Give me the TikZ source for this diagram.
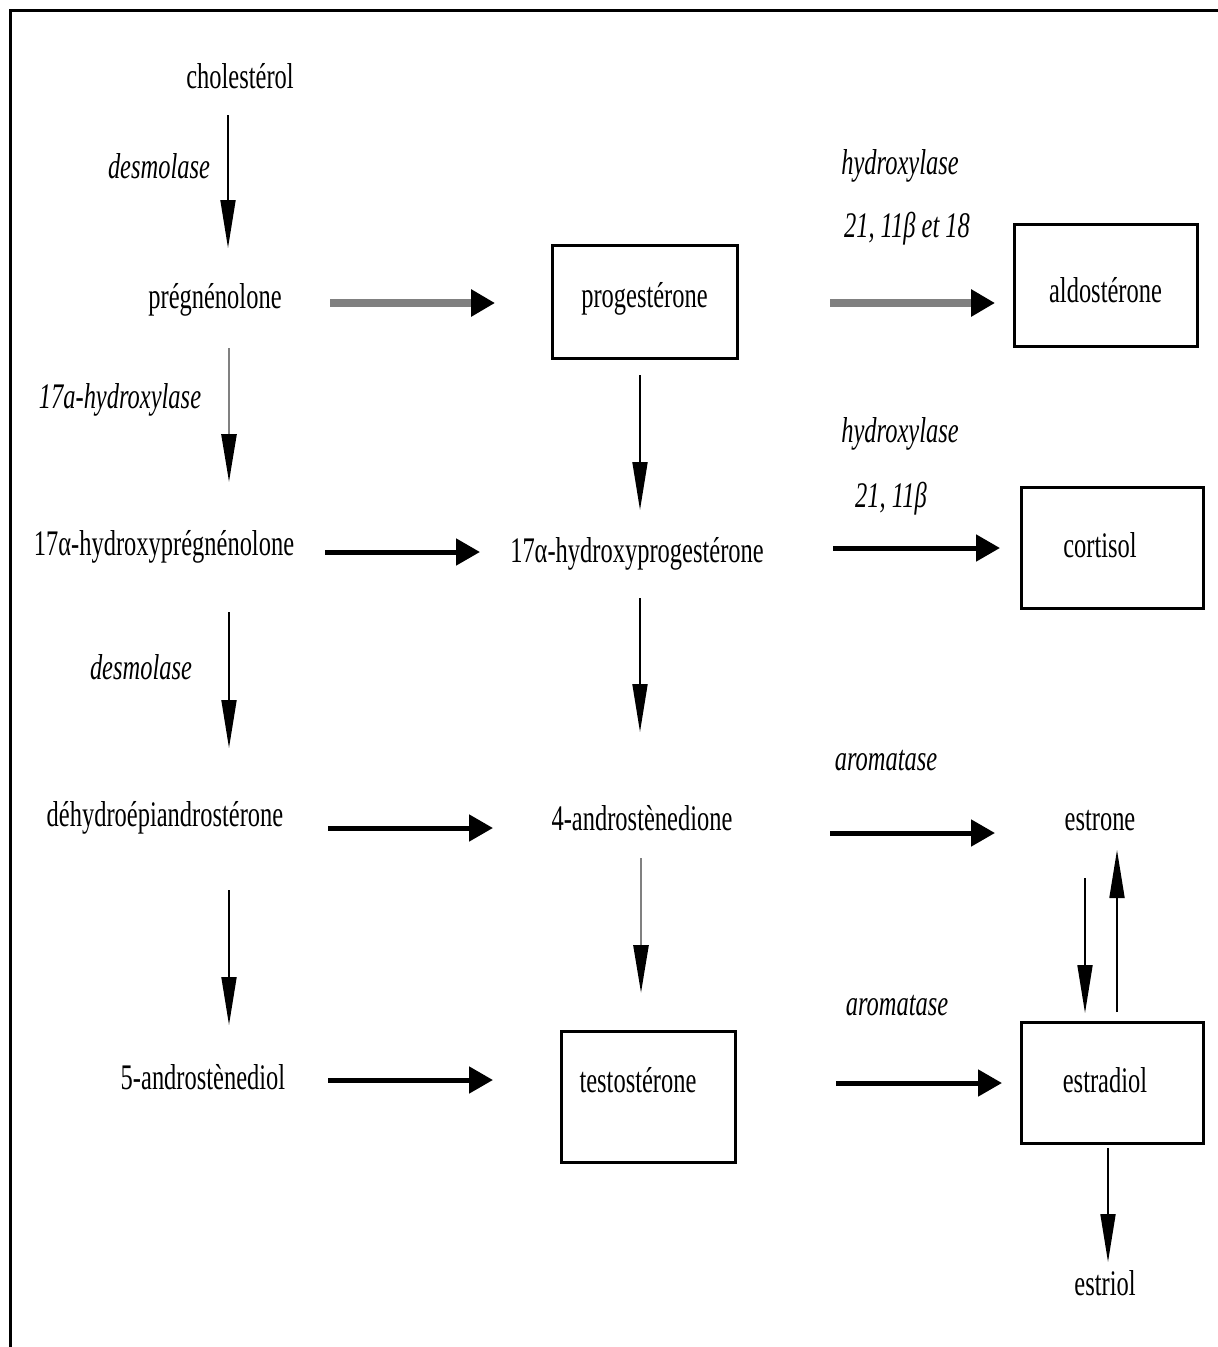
\documentclass[tikz,border=0pt]{standalone}
\usepackage{fontspec}
\setmainfont{Liberation Serif}[FakeStretch=0.68]
\usetikzlibrary{arrows.meta,calc}
\newcommand\mainsz{\fontsize{36pt}{40pt}\selectfont}
\begin{document}
\begin{tikzpicture}[x=1pt,y=-1pt,
  txt/.style={inner sep=0pt, text height=25pt, text depth=1pt, font=\mainsz},
  lab/.style={inner sep=0pt, text height=25pt, text depth=1pt, font=\mainsz\itshape},
  box/.style={draw, line width=3pt, inner sep=0pt, font=\mainsz},
  varr/.style={line width=1.8pt, -{Triangle[length=48pt,width=15pt]}},
  gvarr/.style={line width=2.6pt, draw=gray, -{Triangle[length=48pt,width=15pt,color=black]}},
  harr/.style={line width=5pt, -{Triangle[length=24pt,width=26pt]}},
  garr/.style={line width=8pt, draw=gray, -{Triangle[length=24pt,width=26pt,color=black]}},
  frame/.style={line width=3pt}]
\useasboundingbox (0,0) rectangle (1218,1347);
% frame
\draw[frame] (10,1347) -- (10,10) -- (1218,10);
% left column
\node[txt] (chol)  at (240,76)  {cholestérol};
\node[txt] (preg)  at (215,296) {prégnénolone};
\node[txt] (hpreg) at (164,543) {17α-hydroxyprégnénolone};
\node[txt] (dhea)  at (165,814) {déhydroépiandrostérone};
\node[txt] (adiol) at (203,1077) {5-androstènediol};
% middle column
\node[box, minimum width=185pt, minimum height=113pt, text height=25pt, text depth=14pt] (prog) at (644.5,301.5) {progestérone};
\node[txt] (hprog) at (637,550) {17α-hydroxyprogestérone};
\node[txt] (andr)  at (642,818) {4-androstènedione};
\node[box, minimum width=174pt, minimum height=131pt, text height=25pt, text depth=34pt] (testo) at (648,1096.5) {testostérone\kern20pt};
% right column
\node[box, minimum width=183pt, minimum height=122pt, text height=35pt, text depth=1pt] (ald) at (1105.5,285) {aldostérone};
\node[box, minimum width=182pt, minimum height=121pt, text height=25pt, text depth=6pt] (cort) at (1112,547.5) {cortisol\kern24pt};
\node[txt] (estrone) at (1100,818) {estrone};
\node[box, minimum width=182pt, minimum height=121pt, text height=25pt, text depth=6pt] (estradiol) at (1112,1082.5) {estradiol\kern14pt};
\node[txt] (estriol) at (1105,1283) {estriol};
% enzyme labels
\node[lab] (l1) at (159,166) {desmolase};
\node[lab] (l2) at (120,396) {17a-hydroxylase};
\node[lab] (l3) at (141,667) {desmolase};
\node[lab] (l4) at (900,162) {hydroxylase};
\node[lab] (l5) at (907,225) {21, 11β et 18};
\node[lab] (l6) at (900,430) {hydroxylase};
\node[lab] (l7) at (891,495) {21, 11β};
\node[lab] (l8) at (886,758) {aromatase};
\node[lab] (l9) at (897,1003) {aromatase};
% vertical connectors, left
\draw[varr]  ($(chol)+(-12,39)$)  -- ($(preg)+(13,-48)$);
\draw[gvarr] ($(preg)+(14,52)$)   -- ($(hpreg)+(65,-61)$);
\draw[varr]  ($(hpreg)+(65,69)$)  -- ($(dhea)+(64,-66)$);
\draw[varr]  ($(dhea)+(64,76)$)   -- ($(adiol)+(26,-52)$);
% vertical connectors, middle
\draw[varr]  ($(prog)+(-4.5,73.5)$) -- ($(hprog)+(3,-40)$);
\draw[varr]  ($(hprog)+(3,48)$)     -- ($(andr)+(-2,-86)$);
\draw[gvarr] ($(andr)+(-1,40)$)     -- ($(testo)+(-7,-103.5)$);
% horizontal connectors, left to middle
\draw[garr] ($(preg)+(115,7)$)   -- ($(prog)+(-149.5,1.5)$);
\draw[harr] ($(hpreg)+(161,9)$)  -- ($(hprog)+(-157,2)$);
\draw[harr] ($(dhea)+(163,14)$)  -- ($(andr)+(-149,10)$);
\draw[harr] ($(adiol)+(125,3)$)  -- ($(testo)+(-155,-16.5)$);
% horizontal connectors, middle to right
\draw[garr] ($(prog)+(185.5,1.5)$) -- ($(ald)+(-110.5,18)$);
\draw[harr] ($(hprog)+(196,-2)$)   -- ($(cort)+(-112,0.5)$);
\draw[harr] ($(andr)+(188,15)$)    -- ($(estrone)+(-105,15)$);
\draw[harr] ($(testo)+(188,-13.5)$) -- ($(estradiol)+(-110,0.5)$);
% right column connectors
\draw[varr] ($(estrone)+(-15,60)$)    -- ($(estradiol)+(-27,-69.5)$);
\draw[varr] ($(estradiol)+(5,-70.5)$) -- ($(estrone)+(17,32)$);
\draw[varr] ($(estradiol)+(-4,65.5)$) -- ($(estriol)+(3,-21)$);
\end{tikzpicture}
\end{document}
